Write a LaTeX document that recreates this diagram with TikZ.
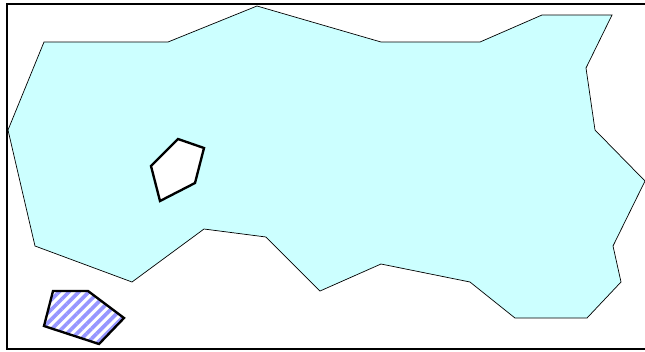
\documentclass[tikz,border=0pt]{standalone}
\usetikzlibrary{patterns.meta}

\definecolor{regionfill}{RGB}{204,255,255}
\definecolor{stripeblue}{RGB}{150,150,255}

\begin{document}
\begin{tikzpicture}[
    x=0.03cm, y=-0.03cm,
    frame/.style={draw=black, line width=1.6pt},
    region/.style={draw=black, line width=0.6pt, fill=regionfill, line join=miter},
    hole/.style={draw=black, line width=2pt, fill=white, line join=miter},
    striped/.style={
        draw=black, line width=2pt, line join=miter,
        pattern={Lines[angle=45, distance=0.21cm, line width=0.11cm]},
        pattern color=stripeblue
    }
]
    \useasboundingbox (0,0) rectangle (645,351);

    % outer frame
    \draw[frame] (7,4) rectangle (680,349);

    % big region
    \draw[region] (8,130) -- (44,42) -- (168,42) -- (257,6) -- (381,42)
        -- (480,42) -- (542,15) -- (612,15) -- (586,68) -- (595,130)
        -- (645,181) -- (613,246) -- (621,282) -- (587,318) -- (515,318)
        -- (470,282) -- (381,264) -- (320,291) -- (266,237) -- (204,229)
        -- (132,282) -- (35,246) -- cycle;

    % hole inside the region
    \draw[hole] (178,139) -- (204,148) -- (195,183) -- (160,201)
        -- (151,166) -- cycle;

    % hatched piece
    \draw[striped] (53,291) -- (88,291) -- (124,318) -- (99,344)
        -- (44,326) -- cycle;
\end{tikzpicture}
\end{document}
